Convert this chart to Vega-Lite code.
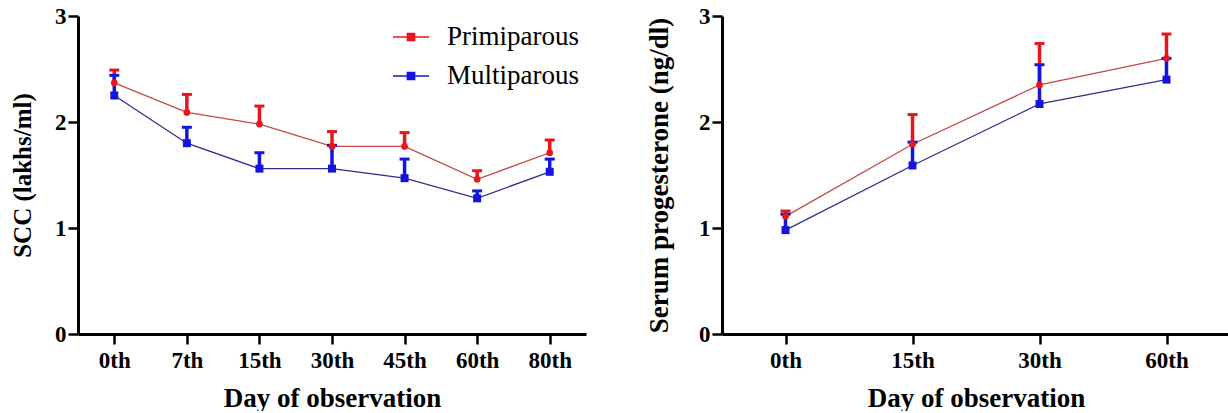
{
  "$schema": "https://vega.github.io/schema/vega-lite/v6.json",
  "background": "white",
  "padding": {"left": 10, "top": 5, "right": 0, "bottom": 0},
  "bounds": "flush",
  "spacing": 136,
  "config": {
    "view": {"stroke": null},
    "font": "Liberation Serif",
    "legend": {"labelFont": "Liberation Serif", "labelFontSize": 27, "labelFontWeight": "normal", "labelColor": "black", "rowPadding": 7},
    "axis": {
      "domainColor": "black", "domainWidth": 3,
      "tickColor": "black", "tickWidth": 2.5, "tickSize": 10,
      "labelFont": "Liberation Serif", "labelFontWeight": "bold", "labelFontSize": 23, "labelColor": "black",
      "titleFont": "Liberation Serif", "titleFontWeight": "bold", "titleFontSize": 26, "titleColor": "black",
      "grid": false
    }
  },
  "datasets": {
    "scc": [
      {"day": "0th", "group": "Primiparous", "mean": 2.37, "upper": 2.49},
      {"day": "7th", "group": "Primiparous", "mean": 2.09, "upper": 2.26},
      {"day": "15th", "group": "Primiparous", "mean": 1.98, "upper": 2.15},
      {"day": "30th", "group": "Primiparous", "mean": 1.77, "upper": 1.91},
      {"day": "45th", "group": "Primiparous", "mean": 1.77, "upper": 1.90},
      {"day": "60th", "group": "Primiparous", "mean": 1.46, "upper": 1.54},
      {"day": "80th", "group": "Primiparous", "mean": 1.71, "upper": 1.83},
      {"day": "0th", "group": "Multiparous", "mean": 2.25, "upper": 2.44},
      {"day": "7th", "group": "Multiparous", "mean": 1.80, "upper": 1.95},
      {"day": "15th", "group": "Multiparous", "mean": 1.56, "upper": 1.71},
      {"day": "30th", "group": "Multiparous", "mean": 1.56, "upper": 1.78},
      {"day": "45th", "group": "Multiparous", "mean": 1.47, "upper": 1.65},
      {"day": "60th", "group": "Multiparous", "mean": 1.28, "upper": 1.35},
      {"day": "80th", "group": "Multiparous", "mean": 1.53, "upper": 1.65}
    ],
    "prog": [
      {"day": "0th", "group": "Primiparous", "mean": 1.11, "upper": 1.16},
      {"day": "15th", "group": "Primiparous", "mean": 1.79, "upper": 2.07},
      {"day": "30th", "group": "Primiparous", "mean": 2.35, "upper": 2.74},
      {"day": "60th", "group": "Primiparous", "mean": 2.60, "upper": 2.83},
      {"day": "0th", "group": "Multiparous", "mean": 0.98, "upper": 1.13},
      {"day": "15th", "group": "Multiparous", "mean": 1.59, "upper": 1.81},
      {"day": "30th", "group": "Multiparous", "mean": 2.17, "upper": 2.54},
      {"day": "60th", "group": "Multiparous", "mean": 2.40, "upper": 2.60}
    ]
  },
  "resolve": {"legend": {"color": "independent"}},
  "hconcat": [
    {
      "width": 508, "height": 318,
      "data": {"name": "scc"},
      "encoding": {
        "x": {"field": "day", "type": "ordinal",
          "scale": {"type": "point", "padding": 0.5, "domain": ["0th", "7th", "15th", "30th", "45th", "60th", "80th"]},
          "axis": {"title": "Day of observation", "titleFontSize": 27, "labelAngle": 0, "labelPadding": 5, "titlePadding": 13}}
      },
      "layer": [
        {
          "mark": {"type": "line", "strokeWidth": 1.3},
          "encoding": {
            "y": {"field": "mean", "type": "quantitative", "scale": {"domain": [0, 3]},
              "axis": {"title": "SCC (lakhs/ml)", "titleFontSize": 25, "values": [0, 1, 2, 3], "format": "d", "labelPadding": 2, "titlePadding": 19}},
            "stroke": {"field": "group", "type": "nominal", "scale": {"domain": ["Primiparous", "Multiparous"], "range": ["#c64848", "#2e2e8e"]}, "legend": null}
          }
        },
        {
          "mark": {"type": "rule", "strokeWidth": 3.5},
          "encoding": {
            "y": {"field": "mean", "type": "quantitative"},
            "y2": {"field": "upper"},
            "color": {"field": "group", "type": "nominal", "scale": {"domain": ["Primiparous", "Multiparous"], "range": ["#e8161b", "#1414dc"]},
              "legend": {"orient": "none", "legendX": 314, "legendY": 2, "title": null, "labelFontSize": 27, "symbolType": "M-1,0H1M-0.2,-0.2H0.2V0.2H-0.2Z", "symbolSize": 1296, "labelOffset": 17, "rowPadding": 7, "symbolStrokeWidth": 1.5, "symbolOpacity": 1}}
          }
        },
        {
          "mark": {"type": "tick", "size": 10, "thickness": 3, "opacity": 1},
          "encoding": {
            "y": {"field": "upper", "type": "quantitative"},
            "color": {"field": "group", "type": "nominal",
              "legend": {"orient": "none", "legendX": 314, "legendY": 2, "title": null, "labelFontSize": 27, "symbolType": "M-1,0H1M-0.2,-0.2H0.2V0.2H-0.2Z", "symbolSize": 1296, "labelOffset": 17, "rowPadding": 7, "symbolStrokeWidth": 1.5, "symbolOpacity": 1}}
          }
        },
        {
          "mark": {"type": "point", "filled": true, "opacity": 1},
          "encoding": {
            "y": {"field": "mean", "type": "quantitative"},
            "shape": {"field": "group", "type": "nominal", "scale": {"domain": ["Primiparous", "Multiparous"], "range": ["circle", "square"]}, "legend": null},
            "size": {"field": "group", "type": "nominal", "scale": {"domain": ["Primiparous", "Multiparous"], "range": [45, 64]}, "legend": null},
            "color": {"field": "group", "type": "nominal",
              "legend": {"orient": "none", "legendX": 314, "legendY": 2, "title": null, "labelFontSize": 27, "symbolType": "M-1,0H1M-0.2,-0.2H0.2V0.2H-0.2Z", "symbolSize": 1296, "labelOffset": 17, "rowPadding": 7, "symbolStrokeWidth": 1.5, "symbolOpacity": 1}}
          }
        }
      ]
    },
    {
      "width": 508, "height": 318,
      "data": {"name": "prog"},
      "encoding": {
        "x": {"field": "day", "type": "ordinal",
          "scale": {"type": "point", "padding": 0.5, "domain": ["0th", "15th", "30th", "60th"]},
          "axis": {"title": "Day of observation", "titleFontSize": 27, "labelAngle": 0, "labelPadding": 5, "titlePadding": 13}}
      },
      "layer": [
        {
          "mark": {"type": "line", "strokeWidth": 1.3},
          "encoding": {
            "y": {"field": "mean", "type": "quantitative", "scale": {"domain": [0, 3]},
              "axis": {"title": "Serum progesterone (ng/dl)", "titleFontSize": 27, "values": [0, 1, 2, 3], "format": "d", "labelPadding": 2, "titlePadding": 25}},
            "stroke": {"field": "group", "type": "nominal", "scale": {"domain": ["Primiparous", "Multiparous"], "range": ["#c64848", "#2e2e8e"]}, "legend": null}
          }
        },
        {
          "mark": {"type": "rule", "strokeWidth": 3.5},
          "encoding": {
            "y": {"field": "mean", "type": "quantitative"},
            "y2": {"field": "upper"},
            "color": {"field": "group", "type": "nominal", "scale": {"domain": ["Primiparous", "Multiparous"], "range": ["#e8161b", "#1414dc"]}, "legend": null}
          }
        },
        {
          "mark": {"type": "tick", "size": 10, "thickness": 3, "opacity": 1},
          "encoding": {
            "y": {"field": "upper", "type": "quantitative"},
            "color": {"field": "group", "type": "nominal", "legend": null}
          }
        },
        {
          "mark": {"type": "point", "filled": true, "opacity": 1},
          "encoding": {
            "y": {"field": "mean", "type": "quantitative"},
            "shape": {"field": "group", "type": "nominal", "scale": {"domain": ["Primiparous", "Multiparous"], "range": ["circle", "square"]}, "legend": null},
            "size": {"field": "group", "type": "nominal", "scale": {"domain": ["Primiparous", "Multiparous"], "range": [45, 64]}, "legend": null},
            "color": {"field": "group", "type": "nominal", "legend": null}
          }
        }
      ]
    }
  ]
}
